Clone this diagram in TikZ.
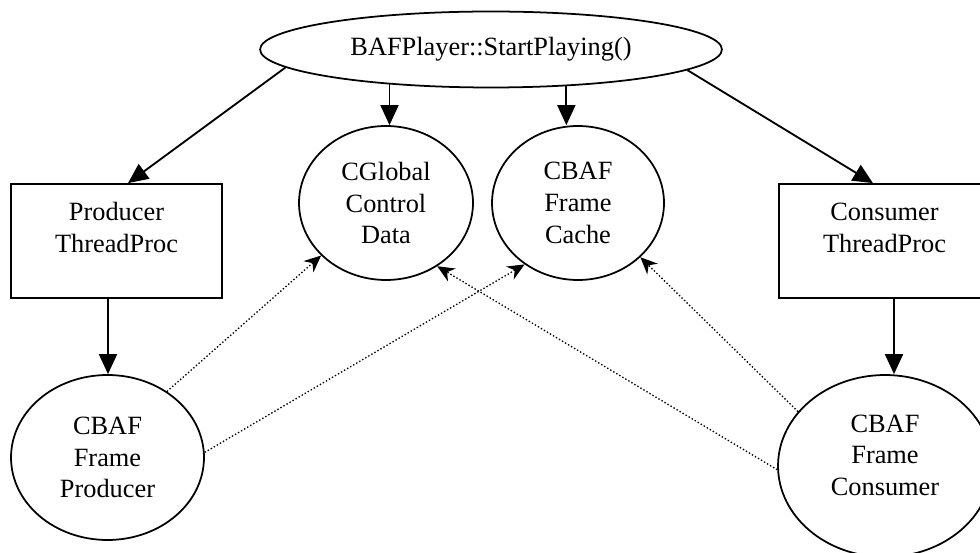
\documentclass[tikz,border=0pt]{standalone}
\usepackage{fontspec}
\setmainfont{Liberation Serif}
\usetikzlibrary{shapes.geometric,arrows.meta}
\tikzset{
  ell/.style={ellipse, draw, line width=1pt, inner sep=0pt, align=center, font=\fontsize{15}{18}\selectfont},
  boxsty/.style={rectangle, draw, line width=1pt, inner sep=0pt, font=\fontsize{15}{18}\selectfont},
  arr/.style={-{Triangle[length=0.4cm,width=0.36cm]}, line width=1.05pt},
  dotarr/.style={-{Stealth[length=0.34cm,width=0.3cm]}, line width=0.75pt, dash pattern=on 0.8pt off 1.2pt}
}
\begin{document}
\begin{tikzpicture}[x=0.02cm,y=-0.02cm]
\useasboundingbox (0,0) rectangle (980,553);
\clip (0,0) rectangle (980,553);
\node[ell, minimum width=9.24cm, minimum height=1.52cm] (top) at (491,49.5) {BAFPlayer::StartPlaying()};
\node[ell, minimum width=3.48cm, minimum height=3.08cm] (cgd) at (386,203) {CGlobal\\Control\\Data};
\node[ell, minimum width=3.44cm, minimum height=3.08cm] (cache) at (578,203) {CBAF\\Frame\\Cache};
\node[boxsty] (pbox) at (116.5,241) {\parbox[c][2.28cm][t]{4.22cm}{\centering\rule{0pt}{21pt}Producer\\ThreadProc}};
\node[boxsty] (cbox) at (884.5,241) {\parbox[c][2.28cm][t]{4.22cm}{\centering\rule{0pt}{21pt}Consumer\\ThreadProc}};
\node[ell, minimum width=3.86cm, minimum height=3.3cm] (prod) at (107.5,457.5) {CBAF\\Frame\\Producer};
\node[ell, minimum width=4.28cm, minimum height=3.64cm] (cons) at (885,466) {\raisebox{1.3pt}[0pt][0pt]{\begin{tabular}{@{}c@{}}CBAF\\Frame\\Consumer\end{tabular}}};
% solid arrows
\draw[arr] (top.185.3) -- ([xshift=0.23cm]pbox.north);
\draw[arr] (top.354.7) -- ([xshift=-0.23cm]cbox.north);
\draw[arr] (top.199.8) -- (top.199.8 |- cgd.north);
\draw[arr] (top.334.7) -- (top.334.7 |- cache.north);
\draw[arr] ([xshift=0.01cm]prod.north |- pbox.south) -- ([xshift=0.01cm]prod.north);
\draw[arr] ([xshift=0.19cm]cbox.south) -- ([xshift=0.19cm]cbox.south |- cons.north);
% dotted arrows
\draw[dotarr] (prod.48.3) -- (cgd.219.6);
\draw[dotarr] (prod.3.9) -- (cache.229.7);
\draw[dotarr] (cons.182) -- (cgd.309.7);
\draw[dotarr] (cons.148.5) -- (cache.319.5);
\end{tikzpicture}
\end{document}
